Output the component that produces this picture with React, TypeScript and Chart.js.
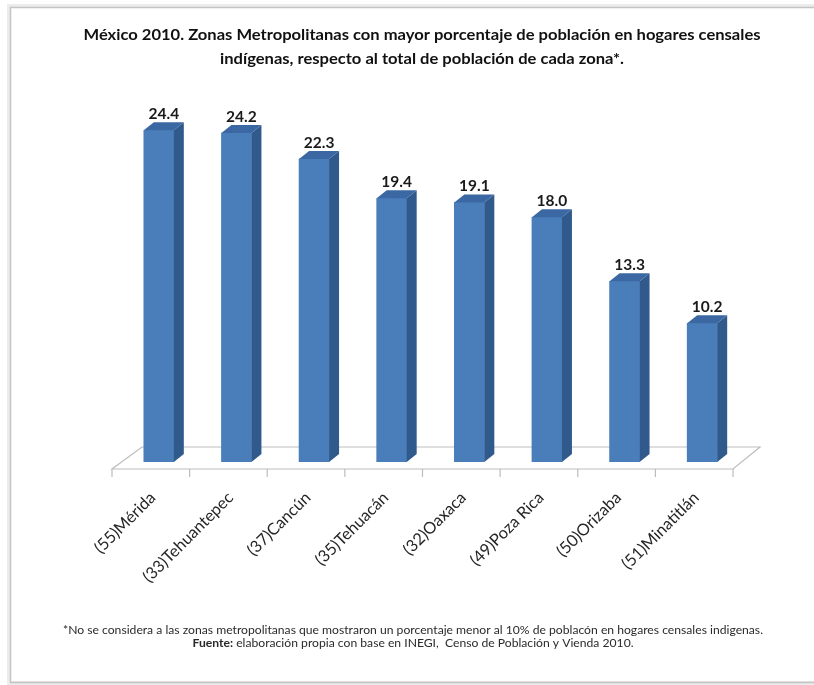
import React, { useEffect, useRef } from "react";
import { Chart, registerables } from "chart.js";

Chart.register(...registerables);

const categories = [
  "(55)Mérida",
  "(33)Tehuantepec",
  "(37)Cancún",
  "(35)Tehuacán",
  "(32)Oaxaca",
  "(49)Poza Rica",
  "(50)Orizaba",
  "(51)Minatitlán",
];
const values = [24.4, 24.2, 22.3, 19.4, 19.1, 18.0, 13.3, 10.2];
const titleLines = [
  "México 2010. Zonas Metropolitanas con mayor porcentaje de población en hogares censales",
  "indígenas, respecto al total de población de cada zona*.",
];
const footnoteLine1 =
  "*No se considera a las zonas metropolitanas que mostraron un porcentaje menor al 10% de poblacón en hogares censales indigenas.";
const footnoteBold = "Fuente:";
const footnoteLine2 = " elaboración propia con base en INEGI,  Censo de Población y Vienda 2010.";

const FRONT = "#4a7ebb";
const SIDE = "#30598c";
const TOP = "#3b68a2";
const DX = 10;
const DY = -8;

export default function App() {
  const ref = useRef<HTMLCanvasElement>(null);

  useEffect(() => {
    const canvas = ref.current!;

    const plugin = {
      id: "excel3d",
      beforeDraw(chart: any) {
        const c = chart.ctx as CanvasRenderingContext2D;
        c.save();
        c.fillStyle = "#ffffff";
        c.fillRect(0, 0, chart.width, chart.height);
        // frame with soft shadow
        c.strokeStyle = "#ececec";
        c.lineWidth = 4;
        c.strokeRect(9, 6, 840, 677);
        c.strokeStyle = "#c4c4c4";
        c.lineWidth = 1.5;
        c.strokeRect(10.5, 7.5, 840, 675);
        c.restore();

        // title
        c.save();
        c.fillStyle = "#111111";
        c.font = "bold 15.5px Lato";
        const w1 = c.measureText(titleLines[0]).width;
        const s = 677 / w1;
        const ys = [39.5, 64];
        titleLines.forEach((t, i) => {
          c.save();
          c.translate(422, ys[i]);
          c.scale(s, 1);
          c.textAlign = "center";
          c.textBaseline = "alphabetic";
          c.fillText(t, 0, 0);
          c.restore();
        });
        c.restore();

        // footnote
        c.save();
        c.fillStyle = "#2a2a2a";
        c.font = "10.5px Lato";
        const fw = c.measureText(footnoteLine1).width;
        const fs = 700 / fw;
        c.save();
        c.translate(413, 634);
        c.scale(fs, 1);
        c.textAlign = "center";
        c.textBaseline = "alphabetic";
        c.fillText(footnoteLine1, 0, 0);
        c.restore();
        c.font = "bold 10.5px Lato";
        const bw = c.measureText(footnoteBold).width;
        c.font = "10.5px Lato";
        const rw = c.measureText(footnoteLine2).width;
        const total = bw + rw;
        c.save();
        c.translate(413, 646.5);
        c.scale(fs, 1);
        c.textAlign = "left";
        c.textBaseline = "alphabetic";
        c.font = "bold 10.5px Lato";
        c.fillText(footnoteBold, -total / 2, 0);
        c.font = "10.5px Lato";
        c.fillText(footnoteLine2, -total / 2 + bw, 0);
        c.restore();
        c.restore();
      },
      beforeDatasetsDraw(chart: any) {
        const c = chart.ctx as CanvasRenderingContext2D;
        const a = chart.chartArea;
        const xs = chart.scales.x;
        const fl = a.left - 8,
          fr = a.right - 8,
          fy = a.bottom + 7;
        const bl = a.left + 22,
          br = a.right + 19,
          by = a.bottom - 15;
        c.save();
        c.strokeStyle = "#bdbdbd";
        c.lineWidth = 1.2;
        c.beginPath();
        c.moveTo(fl, fy);
        c.lineTo(fr, fy);
        c.lineTo(br, by);
        c.lineTo(bl, by);
        c.closePath();
        c.stroke();
        // tick marks along the front edge
        for (let k = 0; k <= categories.length; k++) {
          const x = xs.getPixelForValue(k - 0.5) - 8;
          c.beginPath();
          c.moveTo(x, fy);
          c.lineTo(x, fy + 8);
          c.stroke();
        }
        c.restore();
      },
      afterDatasetsDraw(chart: any) {
        const c = chart.ctx as CanvasRenderingContext2D;
        const a = chart.chartArea;
        const meta = chart.getDatasetMeta(0);
        c.save();
        meta.data.forEach((bar: any, i: number) => {
          const p = bar.getProps(["x", "y", "base", "width"], true);
          const l = p.x - p.width / 2;
          const r = p.x + p.width / 2;
          // side face
          c.fillStyle = SIDE;
          c.beginPath();
          c.moveTo(r, p.y);
          c.lineTo(r + DX, p.y + DY);
          c.lineTo(r + DX, p.base + DY);
          c.lineTo(r, p.base);
          c.closePath();
          c.fill();
          // top face
          c.fillStyle = TOP;
          c.beginPath();
          c.moveTo(l, p.y);
          c.lineTo(l + DX, p.y + DY);
          c.lineTo(r + DX, p.y + DY);
          c.lineTo(r, p.y);
          c.closePath();
          c.fill();
          // value label
          c.fillStyle = "#1a1a1a";
          c.font = "bold 15.5px Lato";
          c.textAlign = "center";
          c.textBaseline = "alphabetic";
          c.fillText(values[i].toFixed(1), p.x + DX / 2, p.y - 11);
        });
        c.restore();

        // category labels
        const xs = chart.scales.x;
        c.save();
        c.font = "100px Lato";
        const refW = c.measureText("(33)Tehuantepec").width;
        const size = (100 * 120) / refW;
        c.font = `${size}px Lato`;
        c.fillStyle = "#262626";
        categories.forEach((lab, i) => {
          const x = xs.getPixelForValue(i);
          c.save();
          c.translate(x - 6, a.bottom + 33);
          c.rotate(-Math.PI / 4);
          c.textAlign = "right";
          c.textBaseline = "middle";
          c.fillText(lab, 0, 0);
          c.restore();
        });
        c.restore();
      },
    };

    const chart = new Chart(canvas, {
      type: "bar",
      data: {
        labels: categories,
        datasets: [
          {
            data: values,
            backgroundColor: FRONT,
            borderWidth: 0,
            barThickness: 30,
          },
        ],
      },
      options: {
        responsive: false,
        animation: false,
        devicePixelRatio: 1,
        layout: { padding: { left: 120, right: 73, top: 95, bottom: 223 } },
        plugins: {
          legend: { display: false },
          tooltip: { enabled: false },
          title: { display: false },
        },
        scales: {
          x: { display: false, offset: true },
          y: { display: false, min: 0, max: 27 },
        },
      },
      plugins: [plugin],
    });
    return () => chart.destroy();
  }, []);

  return (
    <div style={{ position: "absolute", left: 0, top: 0, width: 814, height: 685 }}>
      <canvas ref={ref} width={814} height={685} />
    </div>
  );
}
